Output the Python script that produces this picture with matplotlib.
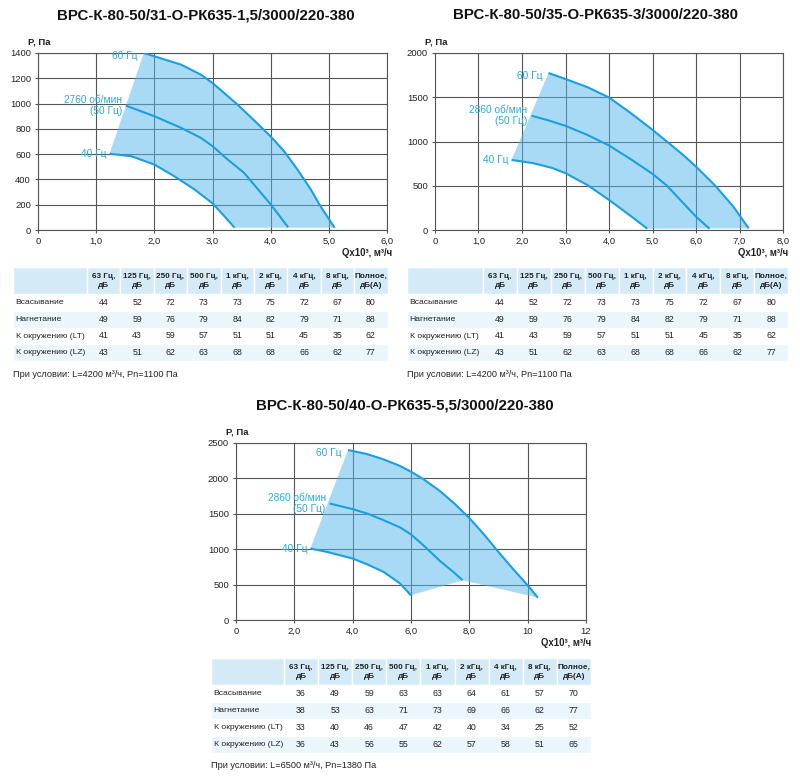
import matplotlib
matplotlib.use("Agg")
import matplotlib.pyplot as plt
from matplotlib.patches import Rectangle

plt.rcParams['font.family'] = ['Liberation Sans', 'DejaVu Sans']

# ---------------- DATA ----------------
titles = ["ВРС-К-80-50/31-О-РК635-1,5/3000/220-380",
          "ВРС-К-80-50/35-О-РК635-3/3000/220-380",
          "ВРС-К-80-50/40-О-РК635-5,5/3000/220-380"]

# Chart 1
c1_60_x = [1.82, 2.0, 2.46, 2.80, 3.0, 3.20, 3.43, 3.71, 4.0, 4.23, 4.46, 4.69, 4.86, 5.10]
c1_60_y = [1400, 1374, 1308, 1229, 1163, 1084, 992, 870, 740, 624, 479, 321, 185, 18]
c1_50_x = [1.51, 2.0, 2.46, 2.80, 3.0, 3.26, 3.54, 3.71, 4.0, 4.30]
c1_50_y = [984, 900, 808, 729, 663, 558, 453, 361, 203, 22]
c1_40_x = [1.23, 1.60, 2.0, 2.34, 2.69, 3.0, 3.20, 3.38]
c1_40_y = [603, 584, 518, 426, 321, 211, 111, 18]
c1_xticks = [0, 1, 2, 3, 4, 5, 6]
c1_xlabels = ["0", "1,0", "2,0", "3,0", "4,0", "5,0", "6,0"]
c1_yticks = [0, 200, 400, 600, 800, 1000, 1200, 1400]

# Chart 2
c2_60_x = [2.61, 3.0, 3.5, 4.0, 4.5, 5.0, 5.33, 5.7, 6.0, 6.44, 6.86, 7.21]
c2_60_y = [1774, 1706, 1615, 1498, 1321, 1132, 1000, 850, 717, 502, 264, 19]
c2_50_x = [2.22, 2.6, 3.0, 3.5, 4.0, 4.5, 5.0, 5.33, 5.71, 6.0, 6.31]
c2_50_y = [1291, 1240, 1177, 1075, 955, 800, 634, 502, 302, 151, 15]
c2_40_x = [1.76, 2.26, 2.7, 3.0, 3.5, 4.0, 4.5, 4.88]
c2_40_y = [792, 755, 700, 642, 509, 340, 158, 15]
c2_xticks = [0, 1, 2, 3, 4, 5, 6, 7, 8]
c2_xlabels = ["0", "1,0", "2,0", "3,0", "4,0", "5,0", "6,0", "7,0", "8,0"]
c2_yticks = [0, 500, 1000, 1500, 2000]

# Chart 3
c3_60_x = [3.84, 4.49, 5.06, 5.63, 6.0, 6.42, 7.0, 7.5, 8.0, 8.5, 9.0, 9.5, 10.0, 10.35]
c3_60_y = [2401, 2344, 2269, 2175, 2094, 1990, 1820, 1640, 1440, 1210, 960, 720, 490, 316]
c3_50_x = [3.21, 4.0, 4.49, 5.06, 5.63, 6.0, 6.42, 6.99, 7.45, 7.77]
c3_50_y = [1646, 1566, 1505, 1410, 1307, 1208, 1057, 835, 679, 561]
c3_40_x = [2.55, 3.12, 4.0, 4.49, 5.06, 5.63, 6.0]
c3_40_y = [1009, 962, 868, 788, 679, 514, 349]
c3_xticks = [0, 2, 4, 6, 8, 10, 12]
c3_xlabels = ["0", "2,0", "4,0", "6,0", "8,0", "10", "12"]
c3_yticks = [0, 500, 1000, 1500, 2000, 2500]

rpm_labels = ["2760 об/мин\n(50 Гц)", "2860 об/мин\n(50 Гц)", "2860 об/мин\n(50 Гц)"]

col_headers = ["63 Гц,\nдБ", "125 Гц,\nдБ", "250 Гц,\nдБ", "500 Гц,\nдБ", "1 кГц,\nдБ",
               "2 кГц,\nдБ", "4 кГц,\nдБ", "8 кГц,\nдБ", "Полное,\nдБ(А)"]
row_labels = ["Всасывание", "Нагнетание", "К окружению (LT)", "К окружению (LZ)"]
table1 = [[44, 52, 72, 73, 73, 75, 72, 67, 80],
          [49, 59, 76, 79, 84, 82, 79, 71, 88],
          [41, 43, 59, 57, 51, 51, 45, 35, 62],
          [43, 51, 62, 63, 68, 68, 66, 62, 77]]
table2 = [[44, 52, 72, 73, 73, 75, 72, 67, 80],
          [49, 59, 76, 79, 84, 82, 79, 71, 88],
          [41, 43, 59, 57, 51, 51, 45, 35, 62],
          [43, 51, 62, 63, 68, 68, 66, 62, 77]]
table3 = [[36, 49, 59, 63, 63, 64, 61, 57, 70],
          [38, 53, 63, 71, 73, 69, 66, 62, 77],
          [33, 40, 46, 47, 42, 40, 34, 25, 52],
          [36, 43, 56, 55, 62, 57, 58, 51, 65]]
notes = ["При условии: L=4200 м³/ч, Pn=1100 Па",
         "При условии: L=4200 м³/ч, Pn=1100 Па",
         "При условии: L=6500 м³/ч, Pn=1380 Па"]

# ---------------- STYLE ----------------
W, H = 800, 782
LINE = '#1a9fe0'
FILL = '#5ab8ec'
LABEL = '#2aa8e0'
GRID = '#555555'
HEAD_BG = '#d4eaf7'
ROW_BG = '#ebf5fc'

fig = plt.figure(figsize=(W / 100, H / 100), dpi=100)
ov = fig.add_axes([0, 0, 1, 1])
ov.set_xlim(0, W)
ov.set_ylim(H, 0)
ov.axis('off')


def make_axes(l, t, r, b):
    return fig.add_axes([l / W, 1 - b / H, (r - l) / W, (b - t) / H])


def draw_chart(box, title, title_xy, c60, c50, c40, xticks, xlabels, yticks, rpm, bottom_via_50):
    ax = make_axes(*box)
    xmax, ymax = xticks[-1], yticks[-1]
    ax.set_xlim(0, xmax)
    ax.set_ylim(0, ymax)
    ax.set_xticks(xticks)
    ax.set_xticklabels(xlabels)
    ax.set_yticks(yticks)
    ax.set_yticklabels([str(v) for v in yticks])
    ax.grid(True, color=GRID, lw=0.8)
    ax.set_axisbelow(True)
    for s in ax.spines.values():
        s.set_color(GRID)
        s.set_linewidth(0.8)
    ax.tick_params(length=2.5, width=0.8, color=GRID, labelsize=6.8, pad=2.5, labelcolor='#222222')

    (x60, y60), (x50, y50), (x40, y40) = c60, c50, c40
    px = [x40[0]] + list(x60)
    py = [y40[0]] + list(y60)
    if bottom_via_50:
        px += [x50[-1]]
        py += [y50[-1]]
    px += list(x40[::-1])
    py += list(y40[::-1])
    ax.fill(px, py, color=FILL, alpha=0.52, lw=0, zorder=2)
    for xs, ys in (c60, c50, c40):
        ax.plot(xs, ys, color=LINE, lw=1.5, zorder=3, solid_capstyle='butt',
                solid_joinstyle='round')

    ax.annotate("60 Гц", xy=(x60[0], y60[0]), xytext=(-6, -3), textcoords='offset pixels',
                ha='right', va='center', color=LABEL, fontsize=7.3, zorder=4, annotation_clip=False)
    ax.annotate(rpm, xy=(x50[0], y50[0]), xytext=(-4, 0), textcoords='offset pixels',
                ha='right', va='center', color=LABEL, fontsize=7.3, linespacing=1.1, zorder=4,
                multialignment='right', annotation_clip=False)
    ax.annotate("40 Гц", xy=(x40[0], y40[0]), xytext=(-3, 0), textcoords='offset pixels',
                ha='right', va='center', color=LABEL, fontsize=7.3, zorder=4, annotation_clip=False)

    ax.annotate("P, Па", xy=(0, 1), xycoords='axes fraction', xytext=(-10, 11),
                textcoords='offset pixels', ha='left', va='center', fontsize=6.8,
                fontweight='bold', color='#222222')
    ax.annotate("Qx10³, м³/ч", xy=(1, 0), xycoords='axes fraction', xytext=(5, -23),
                textcoords='offset pixels', ha='right', va='center', fontsize=6.9,
                fontweight='bold', color='#222222')
    ov.text(title_xy[0], title_xy[1], title, ha='center', va='center', fontsize=10.8,
            fontweight='bold', color='#111111')
    return ax


def draw_table(left, top, label_w, col_w, head_h, row_h, data, note, note_gap):
    n = len(col_headers)
    total_w = label_w + n * col_w
    ov.add_patch(Rectangle((left, top), label_w, head_h, facecolor=HEAD_BG,
                           edgecolor='white', lw=1))
    for j, h in enumerate(col_headers):
        x0 = left + label_w + j * col_w
        ov.add_patch(Rectangle((x0, top), col_w, head_h, facecolor=HEAD_BG,
                               edgecolor='white', lw=1))
        ov.text(x0 + col_w / 2, top + head_h / 2 + 0.5, h, ha='center', va='center',
                fontsize=5.9, fontweight='bold', color='#222222', linespacing=1.3)
    for i, (lab, row) in enumerate(zip(row_labels, data)):
        y0 = top + head_h + i * row_h
        if i % 2 == 1:
            ov.add_patch(Rectangle((left, y0), total_w, row_h, facecolor=ROW_BG,
                                   edgecolor='white', lw=1))
        ov.text(left + 2.5, y0 + row_h / 2, lab, ha='left', va='center', fontsize=6.1,
                color='#222222')
        for j, v in enumerate(row):
            x0 = left + label_w + j * col_w
            ov.text(x0 + col_w / 2, y0 + row_h / 2, str(v), ha='center', va='center',
                    fontsize=6.3, color='#222222')
    ybot = top + head_h + len(data) * row_h
    ov.text(left, ybot + note_gap, note, ha='left', va='center', fontsize=6.6, color='#222222')


draw_chart((38, 53, 387, 230), titles[0], (206, 15),
           (c1_60_x, c1_60_y), (c1_50_x, c1_50_y), (c1_40_x, c1_40_y),
           c1_xticks, c1_xlabels, c1_yticks, rpm_labels[0], False)
draw_chart((435, 53, 783, 230), titles[1], (596, 15),
           (c2_60_x, c2_60_y), (c2_50_x, c2_50_y), (c2_40_x, c2_40_y),
           c2_xticks, c2_xlabels, c2_yticks, rpm_labels[1], False)
draw_chart((236, 443, 586, 620), titles[2], (405, 405),
           (c3_60_x, c3_60_y), (c3_50_x, c3_50_y), (c3_40_x, c3_40_y),
           c3_xticks, c3_xlabels, c3_yticks, rpm_labels[2], True)

draw_table(13, 267, 74, 33.4, 27, 16.8, table1, notes[0], 13.5)
draw_table(407, 267, 76, 33.9, 27, 16.8, table2, notes[1], 13.5)
draw_table(211, 658, 73, 34.1, 27, 17.0, table3, notes[2], 12)

fig.savefig("out.png", dpi=100)
